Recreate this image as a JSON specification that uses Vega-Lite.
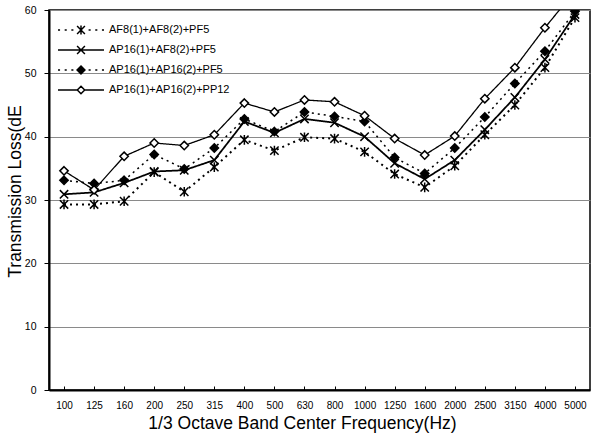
{
  "$schema": "https://vega.github.io/schema/vega-lite/v6.json",
  "width": 541,
  "height": 380,
  "autosize": "none",
  "padding": {"left": 49, "top": 10, "right": 6, "bottom": 46},
  "background": "white",
  "config": {
    "font": "Liberation Sans",
    "view": {"stroke": "black", "strokeWidth": 1.5}
  },
  "data": {
    "values": [
      {"freq": "100", "series": "AF8(1)+AF8(2)+PF5", "tl": 29.3},
      {"freq": "125", "series": "AF8(1)+AF8(2)+PF5", "tl": 29.3},
      {"freq": "160", "series": "AF8(1)+AF8(2)+PF5", "tl": 29.8},
      {"freq": "200", "series": "AF8(1)+AF8(2)+PF5", "tl": 34.4},
      {"freq": "250", "series": "AF8(1)+AF8(2)+PF5", "tl": 31.3},
      {"freq": "315", "series": "AF8(1)+AF8(2)+PF5", "tl": 35.2},
      {"freq": "400", "series": "AF8(1)+AF8(2)+PF5", "tl": 39.5},
      {"freq": "500", "series": "AF8(1)+AF8(2)+PF5", "tl": 37.8},
      {"freq": "630", "series": "AF8(1)+AF8(2)+PF5", "tl": 39.9},
      {"freq": "800", "series": "AF8(1)+AF8(2)+PF5", "tl": 39.7},
      {"freq": "1000", "series": "AF8(1)+AF8(2)+PF5", "tl": 37.6},
      {"freq": "1250", "series": "AF8(1)+AF8(2)+PF5", "tl": 34.1},
      {"freq": "1600", "series": "AF8(1)+AF8(2)+PF5", "tl": 32.0},
      {"freq": "2000", "series": "AF8(1)+AF8(2)+PF5", "tl": 35.4},
      {"freq": "2500", "series": "AF8(1)+AF8(2)+PF5", "tl": 40.3},
      {"freq": "3150", "series": "AF8(1)+AF8(2)+PF5", "tl": 45.0},
      {"freq": "4000", "series": "AF8(1)+AF8(2)+PF5", "tl": 50.9},
      {"freq": "5000", "series": "AF8(1)+AF8(2)+PF5", "tl": 58.8},
      {"freq": "100", "series": "AP16(1)+AF8(2)+PF5", "tl": 30.9},
      {"freq": "125", "series": "AP16(1)+AF8(2)+PF5", "tl": 31.2},
      {"freq": "160", "series": "AP16(1)+AF8(2)+PF5", "tl": 32.7},
      {"freq": "200", "series": "AP16(1)+AF8(2)+PF5", "tl": 34.5},
      {"freq": "250", "series": "AP16(1)+AF8(2)+PF5", "tl": 34.7},
      {"freq": "315", "series": "AP16(1)+AF8(2)+PF5", "tl": 36.3},
      {"freq": "400", "series": "AP16(1)+AF8(2)+PF5", "tl": 42.4},
      {"freq": "500", "series": "AP16(1)+AF8(2)+PF5", "tl": 40.6},
      {"freq": "630", "series": "AP16(1)+AF8(2)+PF5", "tl": 42.8},
      {"freq": "800", "series": "AP16(1)+AF8(2)+PF5", "tl": 42.2},
      {"freq": "1000", "series": "AP16(1)+AF8(2)+PF5", "tl": 40.0},
      {"freq": "1250", "series": "AP16(1)+AF8(2)+PF5", "tl": 35.8},
      {"freq": "1600", "series": "AP16(1)+AF8(2)+PF5", "tl": 33.3},
      {"freq": "2000", "series": "AP16(1)+AF8(2)+PF5", "tl": 36.3},
      {"freq": "2500", "series": "AP16(1)+AF8(2)+PF5", "tl": 41.1},
      {"freq": "3150", "series": "AP16(1)+AF8(2)+PF5", "tl": 46.2},
      {"freq": "4000", "series": "AP16(1)+AF8(2)+PF5", "tl": 52.2},
      {"freq": "5000", "series": "AP16(1)+AF8(2)+PF5", "tl": 59.3},
      {"freq": "100", "series": "AP16(1)+AP16(2)+PF5", "tl": 33.1},
      {"freq": "125", "series": "AP16(1)+AP16(2)+PF5", "tl": 32.6},
      {"freq": "160", "series": "AP16(1)+AP16(2)+PF5", "tl": 33.1},
      {"freq": "200", "series": "AP16(1)+AP16(2)+PF5", "tl": 37.2},
      {"freq": "250", "series": "AP16(1)+AP16(2)+PF5", "tl": 34.9},
      {"freq": "315", "series": "AP16(1)+AP16(2)+PF5", "tl": 38.2},
      {"freq": "400", "series": "AP16(1)+AP16(2)+PF5", "tl": 42.8},
      {"freq": "500", "series": "AP16(1)+AP16(2)+PF5", "tl": 40.8},
      {"freq": "630", "series": "AP16(1)+AP16(2)+PF5", "tl": 43.9},
      {"freq": "800", "series": "AP16(1)+AP16(2)+PF5", "tl": 43.2},
      {"freq": "1000", "series": "AP16(1)+AP16(2)+PF5", "tl": 42.4},
      {"freq": "1250", "series": "AP16(1)+AP16(2)+PF5", "tl": 36.7},
      {"freq": "1600", "series": "AP16(1)+AP16(2)+PF5", "tl": 34.2},
      {"freq": "2000", "series": "AP16(1)+AP16(2)+PF5", "tl": 38.2},
      {"freq": "2500", "series": "AP16(1)+AP16(2)+PF5", "tl": 43.1},
      {"freq": "3150", "series": "AP16(1)+AP16(2)+PF5", "tl": 48.4},
      {"freq": "4000", "series": "AP16(1)+AP16(2)+PF5", "tl": 53.5},
      {"freq": "5000", "series": "AP16(1)+AP16(2)+PF5", "tl": 59.8},
      {"freq": "100", "series": "AP16(1)+AP16(2)+PP12", "tl": 34.6},
      {"freq": "125", "series": "AP16(1)+AP16(2)+PP12", "tl": 31.6},
      {"freq": "160", "series": "AP16(1)+AP16(2)+PP12", "tl": 36.9},
      {"freq": "200", "series": "AP16(1)+AP16(2)+PP12", "tl": 39.0},
      {"freq": "250", "series": "AP16(1)+AP16(2)+PP12", "tl": 38.6},
      {"freq": "315", "series": "AP16(1)+AP16(2)+PP12", "tl": 40.3},
      {"freq": "400", "series": "AP16(1)+AP16(2)+PP12", "tl": 45.3},
      {"freq": "500", "series": "AP16(1)+AP16(2)+PP12", "tl": 43.9},
      {"freq": "630", "series": "AP16(1)+AP16(2)+PP12", "tl": 45.8},
      {"freq": "800", "series": "AP16(1)+AP16(2)+PP12", "tl": 45.5},
      {"freq": "1000", "series": "AP16(1)+AP16(2)+PP12", "tl": 43.3},
      {"freq": "1250", "series": "AP16(1)+AP16(2)+PP12", "tl": 39.7},
      {"freq": "1600", "series": "AP16(1)+AP16(2)+PP12", "tl": 37.1},
      {"freq": "2000", "series": "AP16(1)+AP16(2)+PP12", "tl": 40.1},
      {"freq": "2500", "series": "AP16(1)+AP16(2)+PP12", "tl": 46.0},
      {"freq": "3150", "series": "AP16(1)+AP16(2)+PP12", "tl": 50.9},
      {"freq": "4000", "series": "AP16(1)+AP16(2)+PP12", "tl": 57.2},
      {"freq": "5000", "series": "AP16(1)+AP16(2)+PP12", "tl": 63.0}
    ]
  },
  "resolve": {"scale": {"shape": "independent"}},
  "encoding": {
    "x": {
      "field": "freq",
      "type": "ordinal",
      "sort": null,
      "scale": {"type": "point", "padding": 0.5},
      "axis": {
        "title": "1/3 Octave Band Center Frequency(Hz)",
        "titleFont": "Liberation Sans",
        "titleFontSize": 17.5,
        "titleFontWeight": "normal",
        "titleColor": "black",
        "titleBaseline": "middle",
        "titleY": 33,
        "titleX": 253,
        "labelAngle": 0,
        "labelFont": "Liberation Sans",
        "labelFontSize": 10,
        "labelColor": "black",
        "labelPadding": 14,
        "ticks": true,
        "tickSize": -4,
        "tickColor": "black",
        "domainColor": "black",
        "domainWidth": 2,
        "grid": false
      }
    },
    "y": {
      "field": "tl",
      "type": "quantitative",
      "scale": {"domain": [0, 60], "nice": false, "zero": true},
      "axis": {
        "title": "Transmission Loss(dE",
        "titleFont": "Liberation Sans",
        "titleFontSize": 17.5,
        "titleFontWeight": "normal",
        "titleColor": "black",
        "titleAngle": -90,
        "titleX": -34,
        "titleY": 181,
        "titleAlign": "center",
        "titleBaseline": "middle",
        "values": [0, 10, 20, 30, 40, 50, 60],
        "labelFont": "Liberation Sans",
        "labelFontSize": 10.5,
        "labelColor": "black",
        "labelPadding": 8,
        "tickSize": 5,
        "tickColor": "black",
        "domainColor": "black",
        "domainWidth": 2,
        "grid": true,
        "gridColor": "#8a8a8a",
        "gridWidth": 1
      }
    }
  },
  "layer": [
    {
      "mark": {"type": "line", "color": "black", "clip": true},
      "encoding": {
        "strokeDash": {
          "field": "series",
          "type": "nominal",
          "scale": {
            "domain": ["AF8(1)+AF8(2)+PF5", "AP16(1)+AF8(2)+PF5", "AP16(1)+AP16(2)+PF5", "AP16(1)+AP16(2)+PP12"],
            "range": [[2, 4], [1, 0], [2, 4], [1, 0]]
          },
          "legend": null
        },
        "strokeWidth": {
          "field": "series",
          "type": "ordinal",
          "scale": {
            "domain": ["AF8(1)+AF8(2)+PF5", "AP16(1)+AF8(2)+PF5", "AP16(1)+AP16(2)+PF5", "AP16(1)+AP16(2)+PP12"],
            "range": [2, 1.3, 2, 1.3]
          },
          "legend": null
        }
      }
    },
    {
      "mark": {"type": "point", "stroke": "black", "strokeWidth": 1.5, "opacity": 1, "size": 70, "clip": true},
      "encoding": {
        "shape": {
          "field": "series",
          "type": "nominal",
          "scale": {
            "domain": ["AF8(1)+AF8(2)+PF5", "AP16(1)+AF8(2)+PF5", "AP16(1)+AP16(2)+PF5", "AP16(1)+AP16(2)+PP12"],
            "range": ["M-1,-1L1,1M-1,1L1,-1M0,-1.15L0,1.15", "M-1,-1L1,1M-1,1L1,-1", "M0,-1L1,0L0,1L-1,0Z", "M0,-1L1,0L0,1L-1,0Z"]
          },
          "legend": null
        },
        "fill": {
          "field": "series",
          "type": "nominal",
          "scale": {
            "domain": ["AF8(1)+AF8(2)+PF5", "AP16(1)+AF8(2)+PF5", "AP16(1)+AP16(2)+PF5", "AP16(1)+AP16(2)+PP12"],
            "range": ["transparent", "transparent", "black", "white"]
          },
          "legend": null
        }
      }
    },
    {
      "mark": {"type": "point", "filled": false, "color": "black", "opacity": 0},
      "encoding": {
        "shape": {
          "field": "series",
          "type": "nominal",
          "scale": {
            "domain": ["AF8(1)+AF8(2)+PF5", "AP16(1)+AF8(2)+PF5", "AP16(1)+AP16(2)+PF5", "AP16(1)+AP16(2)+PP12"],
            "range": [
              "M-1,0L-0.91,0M-0.71,0L-0.62,0M-0.42,0L-0.33,0M0.33,0L0.42,0M0.62,0L0.71,0M0.91,0L1,0M-0.17,-0.17L0.17,0.17M-0.17,0.17L0.17,-0.17M0,-0.2L0,0.2",
              "M-1,0L1,0M-0.17,-0.17L0.17,0.17M-0.17,0.17L0.17,-0.17",
              "M-1,0L-0.91,0M-0.71,0L-0.62,0M-0.42,0L-0.33,0M0.33,0L0.42,0M0.62,0L0.71,0M0.91,0L1,0M0,-0.17L0.17,0L0,0.17L-0.17,0ZM0,-0.12L0.12,0L0,0.12L-0.12,0ZM0,-0.07L0.07,0L0,0.07L-0.07,0ZM0,-0.03L0.03,0L0,0.03L-0.03,0Z",
              "M-1,0L-0.16,0M0.16,0L1,0M0,-0.16L0.16,0L0,0.16L-0.16,0Z"
            ]
          },
          "legend": {
            "orient": "none",
            "legendX": 8,
            "legendY": 10,
            "title": null,
            "symbolSize": 2116,
            "symbolOpacity": 1,
            "symbolStrokeWidth": 1.5,
            "symbolStrokeColor": "black",
            "symbolFillColor": "transparent",
            "labelFont": "Liberation Sans",
            "labelFontSize": 11,
            "labelColor": "black",
            "labelOffset": 4,
            "clipHeight": 20,
            "rowPadding": 0
          }
        }
      }
    }
  ]
}
